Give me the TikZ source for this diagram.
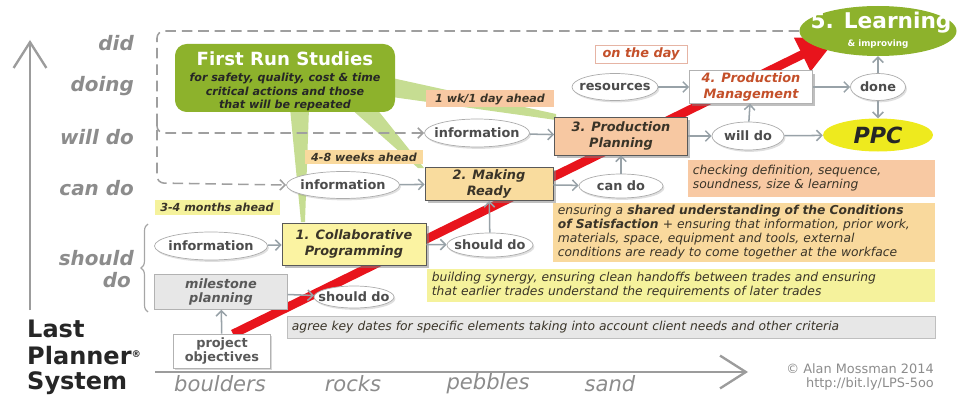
\documentclass[tikz,border=0pt]{standalone}
\usepackage{fontspec}
\setmainfont{DejaVu Sans}
\usetikzlibrary{arrows.meta,shadows,shapes.geometric,decorations.pathreplacing}
\definecolor{frsgreen}{HTML}{8DB22C}
\definecolor{lightgreen}{HTML}{C6DD92}
\definecolor{lpsred}{HTML}{E8141C}
\definecolor{connGrey}{HTML}{98A2A8}
\definecolor{axisGrey}{HTML}{9C9C9C}
\definecolor{labelGrey}{HTML}{8C8C8C}
\definecolor{collabYellow}{HTML}{FBF3A2}
\definecolor{readyOrange}{HTML}{F9DC9E}
\definecolor{planPeach}{HTML}{F7C8A2}
\definecolor{mgmtText}{HTML}{C4502A}
\definecolor{dayBorder}{HTML}{E6B4A4}
\definecolor{ppcYellow}{HTML}{EEEA1E}
\definecolor{descPeach}{HTML}{F8C9A3}
\definecolor{descOrange}{HTML}{F9D99D}
\definecolor{descYellow}{HTML}{F5F29C}
\definecolor{descGrey}{HTML}{E7E7E7}
\definecolor{textDark}{HTML}{3A3428}
\begin{document}
\begin{tikzpicture}[x=0.03cm,y=-0.03cm,
  sz/.style 2 args={minimum width=#1*0.03cm, minimum height=#2*0.03cm},
  dw/.style={text width=#1*0.03cm-8pt},
  ell/.style={ellipse, draw=gray!65, fill=white, line width=0.6pt, inner sep=0pt,
     drop shadow={opacity=0.25, shadow xshift=1.2pt, shadow yshift=-1.6pt}},
  et/.style={inner sep=0pt, font=\fontsize{11}{12}\selectfont\bfseries, text=black!70},
  proc/.style={rectangle, draw=black!65, line width=0.6pt, inner sep=2pt, align=center,
     font=\fontsize{11}{13}\selectfont\bfseries\itshape, text=textDark,
     drop shadow={opacity=0.5, shadow xshift=2.5pt, shadow yshift=-2.5pt}},
  tag/.style={rectangle, inner sep=1pt, font=\fontsize{9.5}{11}\selectfont\bfseries\itshape, text=textDark},
  desc/.style={rectangle, anchor=west, inner xsep=4pt, inner ysep=0pt, align=left,
     font=\fontsize{10.5}{12}\selectfont\itshape, text=textDark},
  conn/.style={draw=connGrey, line width=1.3pt, -{Straight Barb[length=4.5pt,width=9pt]}},
  dashline/.style={draw=gray!75, line width=1.3pt, dash pattern=on 9pt off 5pt, rounded corners=6pt},
  axisline/.style={draw=axisGrey, line width=2pt, -{Straight Barb[length=22pt,width=28pt]}},
  sidelbl/.style={anchor=east, inner sep=0pt, font=\fontsize{17}{19}\selectfont\bfseries\itshape, text=labelGrey},
  bottomlbl/.style={inner sep=0pt, font=\fontsize{18}{20}\selectfont\itshape, text=labelGrey},
  lps/.style={anchor=west, inner sep=0pt, font=\fontsize{20.5}{23}\selectfont\bfseries, text=black!85},
]
\useasboundingbox (0,0) rectangle (971,396);

% axes
\coordinate (vBottom) at (30,310);
\coordinate (vTop) at (30,40);
\draw[axisline] (vBottom) -- (vTop);
\coordinate (hLeft) at (155,372);
\coordinate (hRight) at (748,372);
\draw[axisline] (hLeft) -- (hRight);

% side labels
\node[sidelbl] (lDid) at (134,43) {did};
\node[sidelbl] (lDoing) at (134,86) {doing};
\node[sidelbl] (lWill) at (134,137) {will do};
\node[sidelbl] (lCan) at (134,188) {can do};
\node[sidelbl] (lShould) at (134,258) {should};
\node[sidelbl] (lDo) at (131,280) {do};

\node[lps] (lpsLast) at (27,329) {Last};
\node[lps] (lpsPlanner) at (27,356) {Planner\raisebox{0.55ex}{\fontsize{8}{8}\selectfont ®}};
\node[lps] (lpsSystem) at (27,383) {System};

\node[bottomlbl] (bBoulders) at (220,384) {boulders};
\node[bottomlbl] (bRocks) at (353,384) {rocks};
\node[bottomlbl] (bPebbles) at (488,384) {pebbles};
\node[bottomlbl] (bSand) at (610,384) {sand};

\node[anchor=east, inner sep=0pt, font=\fontsize{11}{12}\selectfont, text=labelGrey] (copyA) at (934,369) {© Alan Mossman 2014};
\node[anchor=east, inner sep=0pt, font=\fontsize{11}{12}\selectfont, text=labelGrey] (copyB) at (934,384) {http://bit.ly/LPS-5oo};

% green links
\fill[lightgreen] (392,78) -- (556,114) -- (556,120) -- (392,97) -- cycle;
\fill[lightgreen] (350,108) -- (376,108) -- (424,168) -- (418,168) -- cycle;
\fill[lightgreen] (290,108) -- (309,108) -- (305,222) -- (301,222) -- cycle;

% red arrow
\coordinate (redStart) at (233,334);
\coordinate (redEnd) at (838,37);
\draw[draw=lpsred, line width=7.5pt, -{Triangle[length=34pt,width=30pt]}] (redStart) -- (redEnd);

% First Run Studies
\node[fill=frsgreen, rounded corners=10pt, sz={220}{68}] (frs) at (285,78) {};
\node[font=\fontsize{15.5}{17}\selectfont\bfseries, text=white] (frsTitle) at (285,59) {First Run Studies};
\node[font=\fontsize{9.5}{11.5}\selectfont\bfseries\itshape, text=black!85, align=center] (frsSub) at (285,92) {for safety, quality, cost \& time\\critical actions and those\\that will be repeated};

% Learning
\node[ellipse, fill=frsgreen, sz={157}{50}, inner sep=0pt] (learn) at (878,31) {};
\node[font=\fontsize{18.5}{20}\selectfont\bfseries, text=white] (learnTitle) at (881,23) {5. Learning};
\node[font=\fontsize{7.5}{9}\selectfont\bfseries, text=white] (learnSub) at (878,44) {\& improving};

% PPC
\node[ellipse, fill=ppcYellow, sz={110}{33}, inner sep=0pt, font=\fontsize{19}{20}\selectfont\bfseries\itshape, text=black!85] (ppc) at (878,135) {PPC};

% ellipses
\node[ell, sz={55}{27}, label={[et]center:done}] (done) at (878,87) {};
\node[ell, sz={72}{28}, label={[et]center:will do}] (willdo) at (748,136) {};
\node[ell, sz={86}{27}, label={[et]center:resources}] (resources) at (615,87) {};
\node[ell, sz={105}{28}, label={[et]center:information}] (infoWill) at (477,133) {};
\node[ell, sz={113}{27}, label={[et]center:information}] (infoCan) at (343,185) {};
\node[ell, sz={84}{24}, label={[et]center:can do}] (canDo) at (621,186) {};
\node[ell, sz={86}{24}, label={[et]center:should do}] (shouldA) at (490,245) {};
\node[ell, sz={80}{22}, label={[et]center:should do}] (shouldB) at (354,297) {};
\node[ell, sz={113}{28}, label={[et]center:information}] (infoShould) at (211,246) {};

% process boxes
\node[proc, fill=collabYellow, sz={144}{42}] (collab) at (354,244) {1. Collaborative\\Programming};
\node[proc, fill=readyOrange, sz={128}{33}] (ready) at (489,184) {2. Making\\Ready};
\node[proc, fill=planPeach, sz={133}{38}] (plan) at (621,136) {3. Production\\Planning};
\node[proc, fill=white, draw=gray!60, text=mgmtText, sz={123}{32}] (mgmt) at (751,87) {4. Production\\Management};

% tags
\node[tag, draw=dayBorder, fill=white, text=mgmtText, font=\fontsize{11}{12}\selectfont\bfseries\itshape, sz={92}{18}] (onday) at (641,54) {on the day};
\node[tag, fill=descPeach, sz={128}{17}] (wkday) at (490,99) {1 wk/1 day ahead};
\node[tag, fill=descOrange, sz={118}{14}] (weeks) at (364,157) {4-8 weeks ahead};
\node[tag, fill=descYellow, sz={125}{15}] (months) at (217,207) {3-4 months ahead};

% milestone / objectives
\node[rectangle, draw=gray!60, fill=descGrey, sz={133}{33}, align=center, font=\fontsize{11}{12.5}\selectfont\bfseries\itshape, text=black!65] (milestone) at (221,292) {milestone\\planning};
\node[rectangle, draw=gray!60, fill=white, sz={97}{28}, align=center, font=\fontsize{11}{12}\selectfont\bfseries, text=black!65, drop shadow={opacity=0.3, shadow xshift=1.5pt, shadow yshift=-1.5pt}] (objectives) at (222,351) {project\\objectives};

% description boxes
\node[desc, fill=descPeach, dw=247, minimum height=37*0.03cm] (dCheck) at (688,178) {checking definition, sequence,\\soundness, size \& learning};
\node[desc, fill=descOrange, dw=382, minimum height=59*0.03cm] (dEnsure) at (553,232) {ensuring a \textbf{shared understanding of the Conditions}\\\textbf{of Satisfaction} + ensuring that information, prior work,\\materials, space, equipment and tools, external\\conditions are ready to come together at the workface};
\node[desc, fill=descYellow, dw=508, minimum height=33*0.03cm] (dBuild) at (427,285) {building synergy, ensuring clean handoffs between trades and ensuring\\that earlier trades understand the requirements of later trades};
\node[desc, fill=descGrey, draw=gray!50, dw=648, minimum height=22*0.03cm] (dAgree) at (287,327) {agree key dates for specific elements taking into account client needs and other criteria};

% dashed brackets
\draw[dashline, -{Straight Barb[length=4.5pt,width=9pt]}] (learn.west) -| (157,183) -- (infoCan.west);
\coordinate (bracketMid) at (157,122);
\draw[dashline, -{Straight Barb[length=4.5pt,width=9pt]}] (bracketMid) |- (infoWill.west);

% should-do brace
\draw[draw=gray!70, line width=1pt, decorate, decoration={brace, amplitude=6pt}] (148,312) -- (148,224);

% connectors
\draw[conn] (infoShould) -- (collab);
\draw[conn] (milestone) -- (shouldB);
\draw[conn] (objectives) -- (milestone);
\draw[conn] (collab) -- (shouldA);
\draw[conn] (shouldA) -- (ready);
\draw[conn] (infoCan) -- (ready);
\draw[conn] (ready) -- (canDo);
\draw[conn] (canDo) -- (plan);
\draw[conn] (infoWill) -- (plan);
\draw[conn] (plan) -- (willdo);
\draw[conn] (willdo) -- (ppc);
\draw[conn] (willdo) -- (mgmt);
\draw[conn] (resources) -- (mgmt);
\draw[conn] (mgmt) -- (done);
\draw[conn] (done) -- (learn);
\draw[conn] (done) -- (ppc);
\end{tikzpicture}
\end{document}
